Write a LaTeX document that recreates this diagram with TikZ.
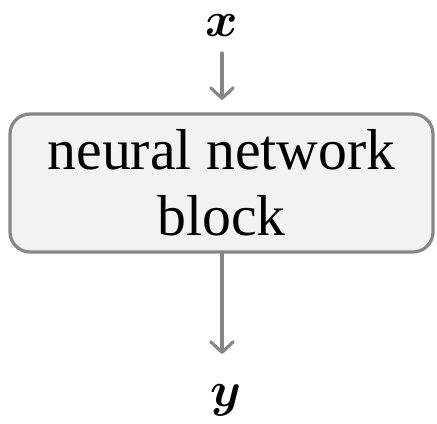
\documentclass[tikz,border=0pt]{standalone}
\usepackage{amsmath,bm,graphicx}
\usepackage{fontspec}
\setmainfont{Liberation Serif}
\usetikzlibrary{arrows.meta}
\begin{document}
\begin{tikzpicture}[x=0.75pt,y=-0.75pt,
  conn/.style={draw=black!47, line width=2.4pt, line cap=round,
    -{Straight Barb[length=8pt,width=17pt,line width=2.4pt,round]}},
  blockbox/.style={draw=black!47, fill=black!5, line width=2.4pt,
    rounded corners=15pt},
  lbl/.style={inner sep=1pt}]
\useasboundingbox (0,0) rectangle (437,424);
\draw[blockbox] (10,114) rectangle (433,252);
\node[align=center, font=\fontsize{43.3}{49.5}\selectfont] (blk) at (221.5,183) {neural network\\block};
\coordinate (btop) at (222,114);
\coordinate (bbot) at (222,252);
\node[lbl] (x) at (222,26) {\scalebox{3.7}{$\bm{x}$}};
\node[lbl] (y) at (226,400) {\scalebox{3.7}{$\bm{y}$}};
\draw[conn] (222,53) -- (222,100);
\draw[conn] (bbot) -- (222,354);
\end{tikzpicture}
\end{document}
